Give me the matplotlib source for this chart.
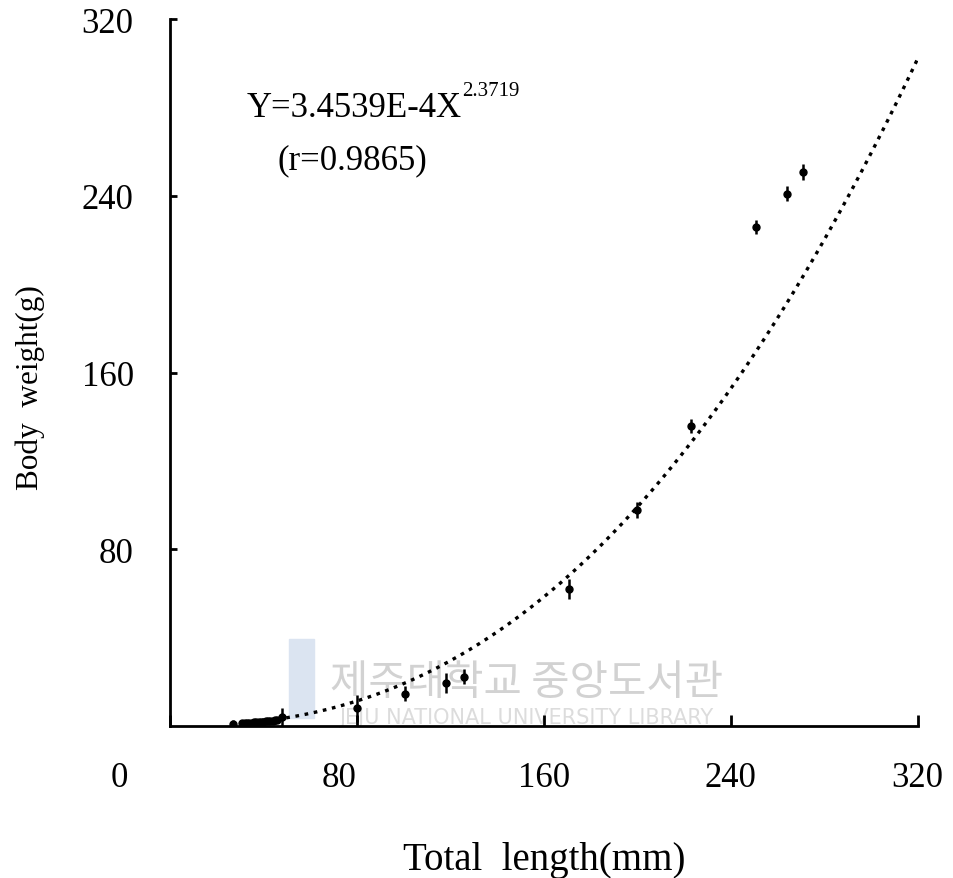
import matplotlib
matplotlib.use("Agg")
import matplotlib.pyplot as plt
import matplotlib.transforms as mtransforms
import numpy as np

# ---- data ----
length_mm = [27, 31, 32, 33, 34, 35, 36, 37, 38, 39, 40, 41, 42, 43, 44, 45, 46, 48,
             80, 100.5, 118, 126, 171, 200, 223, 251, 264, 271]
weight_g  = [0.9, 1.2, 1.2, 1.3, 1.4, 1.5, 1.6, 1.7, 1.8, 1.9, 2.0, 2.1, 2.2, 2.3, 2.4, 2.6, 2.7, 4.0,
             8.0, 14.5, 19.5, 22.2, 62, 97.7, 135.8, 226, 241, 250.8]
weight_err = [2.0, 1.4, 1.4, 1.4, 1.4, 1.4, 1.4, 1.4, 1.4, 1.4, 1.4, 1.4, 1.4, 1.4, 1.4, 1.5, 1.5, 4.2,
              6.0, 3.4, 4.5, 3.4, 4.5, 3.5, 3.0, 3.3, 3.3, 3.5]

fit_a = 3.4539e-4
fit_b = 2.3719
fit_r = 0.9865
fit_x_start = 30
fit_x_end = 320

x_ticks = [0, 80, 160, 240, 320]
y_ticks = [80, 160, 240, 320]

plt.rcParams['font.family'] = ['Liberation Serif', 'DejaVu Serif']

fig = plt.figure(figsize=(9.54, 8.79), dpi=100)
ax = fig.add_axes([0.178, 0.173, 0.784, 0.804])
ax.set_zorder(5)
ax.patch.set_alpha(0)

# watermark (library stamp), drawn beneath the axes
fig.patches.append(plt.Rectangle((0.303, 0.182), 0.026, 0.090, transform=fig.transFigure,
                                 color='#dbe4f1', zorder=-2))
fig.text(0.552, 0.222, '제주대학교 중앙도서관', family=['Noto Sans CJK KR', 'DejaVu Sans'],
         fontsize=30, color='#d2d2d2', ha='center', va='center', zorder=-1)
fig.text(0.552, 0.183, 'JEJU NATIONAL UNIVERSITY LIBRARY', family=['DejaVu Sans'],
         fontsize=15, color='#dcdcdc', ha='center', va='center', zorder=-1)

# fitted curve
xf = np.linspace(fit_x_start, fit_x_end, 400)
yf = fit_a * xf ** fit_b
ax.plot(xf, yf, color='black', lw=2.4, linestyle=(0, (1.1, 1.7)), zorder=2)

# observed means with error bars
ax.errorbar(length_mm, weight_g, yerr=weight_err, fmt='o', color='black',
            ms=5, elinewidth=1.8, capsize=0, zorder=3)

ax.set_xlim(0, 320)
ax.set_ylim(0, 320)
ax.set_xticks(x_ticks)
ax.set_xticklabels([str(t) for t in x_ticks])
ax.set_yticks(y_ticks)
ax.set_yticklabels([str(t) for t in y_ticks])

for s in ['top', 'right']:
    ax.spines[s].set_visible(False)
ax.spines['left'].set_linewidth(2)
ax.spines['bottom'].set_linewidth(2)

ax.tick_params(axis='x', direction='in', length=8, width=2, pad=25, labelsize=25)
ax.tick_params(axis='y', direction='in', length=5, width=2, pad=26, labelsize=25)

# shift the origin label left as in the original
offs = {0: -50 / 100, 1: -18 / 100}
for i, lab in enumerate(ax.get_xticklabels()):
    if i in offs:
        lab.set_transform(lab.get_transform() +
                          mtransforms.ScaledTranslation(offs[i], 0, fig.dpi_scale_trans))

ax.set_xlabel('Total  length(mm)', fontsize=28, labelpad=34)
ax.set_ylabel('Body  weight(g)', fontsize=22.5, labelpad=26)
ax.yaxis.label.set_y(0.48)

t1 = ax.text(33.0, 280, 'Y=3.4539E-4X', fontsize=25, ha='left', va='center')
ax.annotate('%.4f' % fit_b, xy=(1.0, 0.72), xycoords=t1, fontsize=15,
            ha='left', va='bottom')
ax.text(78, 256.5, '(r=%.4f)' % fit_r, fontsize=25, ha='center', va='center')

fig.savefig('out.png', dpi=100)
